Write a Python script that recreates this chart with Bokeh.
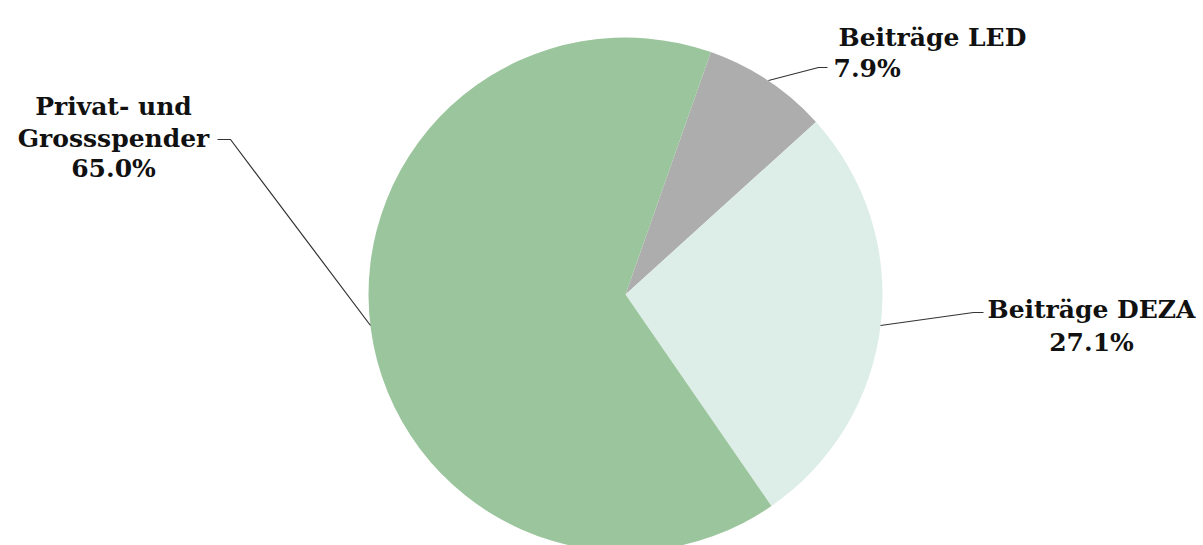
import numpy as np
from bokeh.plotting import figure
from bokeh.models import ColumnDataSource
from bokeh.embed import file_html
from bokeh.resources import INLINE
from bokeh.core.properties import value

# ---- data ----
categories = ["Beiträge LED", "Beiträge DEZA", "Privat- und Grossspender"]
label_lines = [["Beiträge LED"], ["Beiträge DEZA"], ["Privat- und", "Grossspender"]]
shares = [7.9, 27.1, 65.0]
colors = ["#ADADAD", "#DDEEE8", "#9BC59C"]

# ---- layout ----
W, H = 1203, 545
def X(px): return px
def Y(py): return H - py

p = figure(width=W, height=H, x_range=(0, W), y_range=(0, H),
           output_backend="svg", toolbar_location=None, min_border=0,
           x_axis_location=None, y_axis_location=None)
p.grid.visible = False
p.outline_line_color = None
p.background_fill_color = "white"
p.border_fill_color = "white"

cx, cy, R = X(625), Y(294), 257
fr = np.array(shares) / np.sum(shares)
cum = np.concatenate([[0.0], np.cumsum(fr)])
theta0 = np.deg2rad(19.4)   # first slice boundary, clockwise from 12 o'clock
starts = np.pi / 2 - theta0 - 2 * np.pi * cum[:-1]
ends = np.pi / 2 - theta0 - 2 * np.pi * cum[1:]

src = ColumnDataSource(dict(start=starts, end=ends, color=colors, cat=categories))
p.wedge(x=cx, y=cy, radius=R, start_angle="start", end_angle="end",
        direction="clock", fill_color="color", line_color=None, source=src)

# leader lines
leaders = [
    [(768, 80), (818, 67), (827, 67)],
    [(880, 325), (973, 312), (983, 312)],
    [(370, 325), (230, 139), (217, 139)],
]
p.multi_line(xs=[[X(a) for a, b in L] for L in leaders],
             ys=[[Y(b) for a, b in L] for L in leaders],
             line_color="#333333", line_width=1.2)

pct = [f"{v:.1f}%" for v in shares]

# label texts
txt_x, txt_y, txt, align = [], [], [], []
# LED (left aligned)
txt += [label_lines[0][0], pct[0]]
txt_x += [X(838), X(833)]
txt_y += [Y(37), Y(68)]
align += ["left", "left"]
# DEZA (centered)
txt += [label_lines[1][0], pct[1]]
txt_x += [X(1091), X(1091)]
txt_y += [Y(309), Y(342)]
align += ["center", "center"]
# Privat (centered)
txt += [label_lines[2][0], label_lines[2][1], pct[2]]
txt_x += [X(113), X(113), X(113)]
txt_y += [Y(106), Y(138), Y(168)]
align += ["center", "center", "center"]

tsrc = ColumnDataSource(dict(x=txt_x, y=txt_y, t=txt, a=align))
p.text(x="x", y="y", text="t", text_align="a", text_baseline="alphabetic",
       text_font=value("DejaVu Serif"), text_font_style="bold",
       text_font_size="25px", text_color="#111111", source=tsrc)

open("out.html", "w").write(file_html(p, INLINE))
